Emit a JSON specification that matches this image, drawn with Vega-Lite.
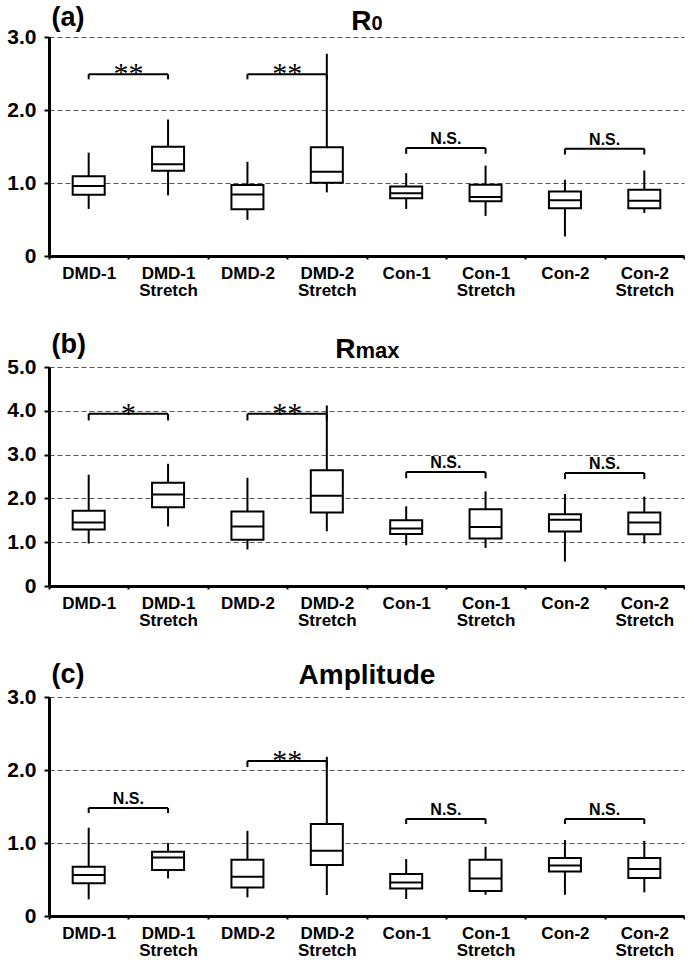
{
  "$schema": "https://vega.github.io/schema/vega-lite/v6.json",
  "background": "white",
  "padding": {"left": 6, "top": 3, "right": 0, "bottom": 0},
  "autosize": {"type": "pad"},
  "config": {"view": {"stroke": null}, "font": "Liberation Sans"},
  "spacing": 111,
  "bounds": "flush",
  "datasets": {
    "box_a": [
      {"group": "DMD-1", "min": 0.645, "q1": 0.84, "median": 0.958, "q3": 1.094, "max": 1.416},
      {"group": "DMD-1 Stretch", "min": 0.83, "q1": 1.167, "median": 1.257, "q3": 1.498, "max": 1.87},
      {"group": "DMD-2", "min": 0.495, "q1": 0.64, "median": 0.844, "q3": 0.971, "max": 1.29},
      {"group": "DMD-2 Stretch", "min": 0.871, "q1": 1.003, "median": 1.153, "q3": 1.489, "max": 2.77},
      {"group": "Con-1", "min": 0.645, "q1": 0.79, "median": 0.858, "q3": 0.953, "max": 1.135},
      {"group": "Con-1 Stretch", "min": 0.549, "q1": 0.749, "median": 0.808, "q3": 0.976, "max": 1.239},
      {"group": "Con-2", "min": 0.268, "q1": 0.654, "median": 0.763, "q3": 0.885, "max": 1.044},
      {"group": "Con-2 Stretch", "min": 0.59, "q1": 0.654, "median": 0.758, "q3": 0.908, "max": 1.171}
    ],
    "box_b": [
      {"group": "DMD-1", "min": 0.97, "q1": 1.29, "median": 1.45, "q3": 1.72, "max": 2.54},
      {"group": "DMD-1 Stretch", "min": 1.36, "q1": 1.8, "median": 2.087, "q3": 2.355, "max": 2.79},
      {"group": "DMD-2", "min": 0.833, "q1": 1.055, "median": 1.36, "q3": 1.7, "max": 2.47},
      {"group": "DMD-2 Stretch", "min": 1.25, "q1": 1.68, "median": 2.06, "q3": 2.64, "max": 4.12},
      {"group": "Con-1", "min": 0.93, "q1": 1.19, "median": 1.31, "q3": 1.5, "max": 1.82},
      {"group": "Con-1 Stretch", "min": 0.87, "q1": 1.085, "median": 1.345, "q3": 1.75, "max": 2.16},
      {"group": "Con-2", "min": 0.558, "q1": 1.246, "median": 1.51, "q3": 1.64, "max": 2.1},
      {"group": "Con-2 Stretch", "min": 0.97, "q1": 1.18, "median": 1.45, "q3": 1.68, "max": 2.04}
    ],
    "box_c": [
      {"group": "DMD-1", "min": 0.228, "q1": 0.447, "median": 0.561, "q3": 0.675, "max": 1.21},
      {"group": "DMD-1 Stretch", "min": 0.515, "q1": 0.63, "median": 0.8, "q3": 0.88, "max": 1.0},
      {"group": "DMD-2", "min": 0.255, "q1": 0.392, "median": 0.538, "q3": 0.77, "max": 1.167},
      {"group": "DMD-2 Stretch", "min": 0.287, "q1": 0.698, "median": 0.894, "q3": 1.26, "max": 2.18},
      {"group": "Con-1", "min": 0.233, "q1": 0.378, "median": 0.46, "q3": 0.575, "max": 0.78},
      {"group": "Con-1 Stretch", "min": 0.29, "q1": 0.342, "median": 0.515, "q3": 0.77, "max": 0.948},
      {"group": "Con-2", "min": 0.29, "q1": 0.611, "median": 0.693, "q3": 0.793, "max": 1.04},
      {"group": "Con-2 Stretch", "min": 0.324, "q1": 0.52, "median": 0.643, "q3": 0.793, "max": 1.03}
    ],
    "br_a": [
      {"left": "DMD-1", "right": "DMD-1 Stretch", "y": 2.49, "ylow": 2.42, "label": "**"},
      {"left": "DMD-2", "right": "DMD-2 Stretch", "y": 2.49, "ylow": 2.42, "label": "**"},
      {"left": "Con-1", "right": "Con-1 Stretch", "y": 1.48, "ylow": 1.4, "label": "N.S."},
      {"left": "Con-2", "right": "Con-2 Stretch", "y": 1.47, "ylow": 1.39, "label": "N.S."}
    ],
    "br_b": [
      {"left": "DMD-1", "right": "DMD-1 Stretch", "y": 3.93, "ylow": 3.78, "label": "*"},
      {"left": "DMD-2", "right": "DMD-2 Stretch", "y": 3.93, "ylow": 3.78, "label": "**"},
      {"left": "Con-1", "right": "Con-1 Stretch", "y": 2.6, "ylow": 2.46, "label": "N.S."},
      {"left": "Con-2", "right": "Con-2 Stretch", "y": 2.58, "ylow": 2.44, "label": "N.S."}
    ],
    "br_c": [
      {"left": "DMD-1", "right": "DMD-1 Stretch", "y": 1.48, "ylow": 1.41, "label": "N.S."},
      {"left": "DMD-2", "right": "DMD-2 Stretch", "y": 2.125, "ylow": 2.04, "label": "**"},
      {"left": "Con-1", "right": "Con-1 Stretch", "y": 1.33, "ylow": 1.26, "label": "N.S."},
      {"left": "Con-2", "right": "Con-2 Stretch", "y": 1.33, "ylow": 1.26, "label": "N.S."}
    ]
  },
  "vconcat": [
    {
      "width": 635, "height": 219,
      "resolve": {"axis": {"y": "independent"}},
      "layer": [
        {"data": {"name": "box_a"}, "mark": {"type": "rule", "color": "black", "strokeWidth": 2},
         "encoding": {
           "x": {"field": "group", "type": "nominal", "scale": {"type": "band", "domain": ["DMD-1","DMD-1 Stretch","DMD-2","DMD-2 Stretch","Con-1","Con-1 Stretch","Con-2","Con-2 Stretch"], "paddingInner": 0, "paddingOuter": 0},
             "axis": {"labelExpr": "split(datum.label, ' ')", "labelFont": "Liberation Sans", "labelFontSize": 17, "labelFontWeight": "bold", "labelColor": "black", "labelAngle": 0, "labelPadding": 6, "labelLineHeight": 17, "tickBand": "extent", "tickSize": 3, "tickWidth": 2, "tickColor": "black", "domainColor": "black", "domainWidth": 3, "grid": false,
               "title": "(a)", "titleX": 2, "titleY": -231, "titleAlign": "left", "titleBaseline": "alphabetic", "titleAnchor": "start", "titleFont": "Liberation Sans", "titleFontSize": 27, "titleFontWeight": "bold", "titleColor": "black"}},
           "y": {"field": "min", "type": "quantitative", "scale": {"domain": [0, 3], "nice": false},
             "axis": {"orient": "left", "values": [0, 1, 2, 3], "labelExpr": "datum.value == 0 ? '0' : format(datum.value, '.1f')", "labelFont": "Liberation Sans", "labelFontWeight": "bold", "labelFontSize": 21, "labelColor": "black", "labelPadding": 8, "tickSize": 5, "tickWidth": 2, "tickColor": "black", "domainColor": "black", "domainWidth": 3, "grid": true, "gridColor": "#555555", "gridDash": [5, 3], "gridWidth": 1,
               "title": "R", "titleX": 322, "titleY": -8, "titleAngle": 0, "titleAlign": "right", "titleBaseline": "alphabetic", "titleFont": "Liberation Sans", "titleFontSize": 28, "titleFontWeight": "bold", "titleColor": "black"}},
           "y2": {"field": "max"}
         }},
        {"data": {"name": "box_a"}, "mark": {"type": "bar", "fill": "white", "stroke": "black", "strokeWidth": 2, "size": 32},
         "encoding": {
           "x": {"field": "group", "type": "nominal", "scale": {"type": "band", "domain": ["DMD-1","DMD-1 Stretch","DMD-2","DMD-2 Stretch","Con-1","Con-1 Stretch","Con-2","Con-2 Stretch"], "paddingInner": 0, "paddingOuter": 0}},
           "y": {"field": "q1", "type": "quantitative", "scale": {"domain": [0, 3], "nice": false}, "axis": null},
           "y2": {"field": "q3"}
         }},
        {"data": {"name": "box_a"}, "mark": {"type": "tick", "color": "black", "opacity": 1, "thickness": 2, "size": 32},
         "encoding": {
           "x": {"field": "group", "type": "nominal", "scale": {"type": "band", "domain": ["DMD-1","DMD-1 Stretch","DMD-2","DMD-2 Stretch","Con-1","Con-1 Stretch","Con-2","Con-2 Stretch"], "paddingInner": 0, "paddingOuter": 0}},
           "y": {"field": "median", "type": "quantitative", "scale": {"domain": [0, 3], "nice": false}, "axis": null}
         }},
        {"data": {"name": "br_a"}, "mark": {"type": "rule", "color": "black", "strokeWidth": 2},
         "encoding": {
           "x": {"field": "left", "type": "nominal", "scale": {"type": "band", "domain": ["DMD-1","DMD-1 Stretch","DMD-2","DMD-2 Stretch","Con-1","Con-1 Stretch","Con-2","Con-2 Stretch"], "paddingInner": 0, "paddingOuter": 0}},
           "x2": {"field": "right"},
           "y": {"field": "y", "type": "quantitative", "scale": {"domain": [0, 3], "nice": false},
             "axis": {"orient": "right", "labels": false, "ticks": false, "domain": false, "grid": false, "title": "0", "titleX": -313, "titleY": -8, "titleAngle": 0, "titleAlign": "left", "titleBaseline": "alphabetic", "titleFont": "Liberation Sans", "titleFontSize": 20, "titleFontWeight": "bold", "titleColor": "black"}}
         }},
        {"data": {"name": "br_a"}, "mark": {"type": "rule", "color": "black", "strokeWidth": 2},
         "encoding": {
           "x": {"field": "left", "type": "nominal", "scale": {"type": "band", "domain": ["DMD-1","DMD-1 Stretch","DMD-2","DMD-2 Stretch","Con-1","Con-1 Stretch","Con-2","Con-2 Stretch"], "paddingInner": 0, "paddingOuter": 0}},
           "y": {"field": "y", "type": "quantitative", "scale": {"domain": [0, 3], "nice": false}, "axis": null},
           "y2": {"field": "ylow"}
         }},
        {"data": {"name": "br_a"}, "mark": {"type": "rule", "color": "black", "strokeWidth": 2},
         "encoding": {
           "x": {"field": "right", "type": "nominal", "scale": {"type": "band", "domain": ["DMD-1","DMD-1 Stretch","DMD-2","DMD-2 Stretch","Con-1","Con-1 Stretch","Con-2","Con-2 Stretch"], "paddingInner": 0, "paddingOuter": 0}},
           "y": {"field": "y", "type": "quantitative", "scale": {"domain": [0, 3], "nice": false}, "axis": null},
           "y2": {"field": "ylow"}
         }},
        {"data": {"name": "br_a"}, "transform": [{"filter": "datum.label == 'N.S.'"}],
         "mark": {"type": "text", "font": "Liberation Sans", "fontSize": 16, "fontWeight": "bold", "color": "black", "dx": 39.7, "dy": -4, "baseline": "alphabetic", "align": "center"},
         "encoding": {
           "x": {"field": "left", "type": "nominal", "scale": {"type": "band", "domain": ["DMD-1","DMD-1 Stretch","DMD-2","DMD-2 Stretch","Con-1","Con-1 Stretch","Con-2","Con-2 Stretch"], "paddingInner": 0, "paddingOuter": 0}},
           "y": {"field": "y", "type": "quantitative", "scale": {"domain": [0, 3], "nice": false}, "axis": null},
           "text": {"field": "label"}
         }},
        {"data": {"name": "br_a"}, "transform": [{"filter": "datum.label != 'N.S.'"}],
         "mark": {"type": "text", "font": "Liberation Serif", "fontSize": 30, "color": "black", "dx": 39.7, "dy": 9, "baseline": "alphabetic", "align": "center"},
         "encoding": {
           "x": {"field": "left", "type": "nominal", "scale": {"type": "band", "domain": ["DMD-1","DMD-1 Stretch","DMD-2","DMD-2 Stretch","Con-1","Con-1 Stretch","Con-2","Con-2 Stretch"], "paddingInner": 0, "paddingOuter": 0}},
           "y": {"field": "y", "type": "quantitative", "scale": {"domain": [0, 3], "nice": false}, "axis": null},
           "text": {"field": "label"}
         }}
      ]
    },
    {
      "width": 635, "height": 219,
      "resolve": {"axis": {"y": "independent"}},
      "layer": [
        {"data": {"name": "box_b"}, "mark": {"type": "rule", "color": "black", "strokeWidth": 2},
         "encoding": {
           "x": {"field": "group", "type": "nominal", "scale": {"type": "band", "domain": ["DMD-1","DMD-1 Stretch","DMD-2","DMD-2 Stretch","Con-1","Con-1 Stretch","Con-2","Con-2 Stretch"], "paddingInner": 0, "paddingOuter": 0},
             "axis": {"labelExpr": "split(datum.label, ' ')", "labelFont": "Liberation Sans", "labelFontSize": 17, "labelFontWeight": "bold", "labelColor": "black", "labelAngle": 0, "labelPadding": 6, "labelLineHeight": 17, "tickBand": "extent", "tickSize": 3, "tickWidth": 2, "tickColor": "black", "domainColor": "black", "domainWidth": 3, "grid": false,
               "title": "(b)", "titleX": 2, "titleY": -234, "titleAlign": "left", "titleBaseline": "alphabetic", "titleAnchor": "start", "titleFont": "Liberation Sans", "titleFontSize": 27, "titleFontWeight": "bold", "titleColor": "black"}},
           "y": {"field": "min", "type": "quantitative", "scale": {"domain": [0, 5], "nice": false},
             "axis": {"orient": "left", "values": [0, 1, 2, 3, 4, 5], "labelExpr": "datum.value == 0 ? '0' : format(datum.value, '.1f')", "labelFont": "Liberation Sans", "labelFontWeight": "bold", "labelFontSize": 21, "labelColor": "black", "labelPadding": 8, "tickSize": 5, "tickWidth": 2, "tickColor": "black", "domainColor": "black", "domainWidth": 3, "grid": true, "gridColor": "#555555", "gridDash": [5, 3], "gridWidth": 1,
               "title": "R", "titleX": 306, "titleY": -10, "titleAngle": 0, "titleAlign": "right", "titleBaseline": "alphabetic", "titleFont": "Liberation Sans", "titleFontSize": 28, "titleFontWeight": "bold", "titleColor": "black"}},
           "y2": {"field": "max"}
         }},
        {"data": {"name": "box_b"}, "mark": {"type": "bar", "fill": "white", "stroke": "black", "strokeWidth": 2, "size": 32},
         "encoding": {
           "x": {"field": "group", "type": "nominal", "scale": {"type": "band", "domain": ["DMD-1","DMD-1 Stretch","DMD-2","DMD-2 Stretch","Con-1","Con-1 Stretch","Con-2","Con-2 Stretch"], "paddingInner": 0, "paddingOuter": 0}},
           "y": {"field": "q1", "type": "quantitative", "scale": {"domain": [0, 5], "nice": false}, "axis": null},
           "y2": {"field": "q3"}
         }},
        {"data": {"name": "box_b"}, "mark": {"type": "tick", "color": "black", "opacity": 1, "thickness": 2, "size": 32},
         "encoding": {
           "x": {"field": "group", "type": "nominal", "scale": {"type": "band", "domain": ["DMD-1","DMD-1 Stretch","DMD-2","DMD-2 Stretch","Con-1","Con-1 Stretch","Con-2","Con-2 Stretch"], "paddingInner": 0, "paddingOuter": 0}},
           "y": {"field": "median", "type": "quantitative", "scale": {"domain": [0, 5], "nice": false}, "axis": null}
         }},
        {"data": {"name": "br_b"}, "mark": {"type": "rule", "color": "black", "strokeWidth": 2},
         "encoding": {
           "x": {"field": "left", "type": "nominal", "scale": {"type": "band", "domain": ["DMD-1","DMD-1 Stretch","DMD-2","DMD-2 Stretch","Con-1","Con-1 Stretch","Con-2","Con-2 Stretch"], "paddingInner": 0, "paddingOuter": 0}},
           "x2": {"field": "right"},
           "y": {"field": "y", "type": "quantitative", "scale": {"domain": [0, 5], "nice": false},
             "axis": {"orient": "right", "labels": false, "ticks": false, "domain": false, "grid": false, "title": "max", "titleX": -329, "titleY": -10, "titleAngle": 0, "titleAlign": "left", "titleBaseline": "alphabetic", "titleFont": "Liberation Sans", "titleFontSize": 22, "titleFontWeight": "bold", "titleColor": "black"}}
         }},
        {"data": {"name": "br_b"}, "mark": {"type": "rule", "color": "black", "strokeWidth": 2},
         "encoding": {
           "x": {"field": "left", "type": "nominal", "scale": {"type": "band", "domain": ["DMD-1","DMD-1 Stretch","DMD-2","DMD-2 Stretch","Con-1","Con-1 Stretch","Con-2","Con-2 Stretch"], "paddingInner": 0, "paddingOuter": 0}},
           "y": {"field": "y", "type": "quantitative", "scale": {"domain": [0, 5], "nice": false}, "axis": null},
           "y2": {"field": "ylow"}
         }},
        {"data": {"name": "br_b"}, "mark": {"type": "rule", "color": "black", "strokeWidth": 2},
         "encoding": {
           "x": {"field": "right", "type": "nominal", "scale": {"type": "band", "domain": ["DMD-1","DMD-1 Stretch","DMD-2","DMD-2 Stretch","Con-1","Con-1 Stretch","Con-2","Con-2 Stretch"], "paddingInner": 0, "paddingOuter": 0}},
           "y": {"field": "y", "type": "quantitative", "scale": {"domain": [0, 5], "nice": false}, "axis": null},
           "y2": {"field": "ylow"}
         }},
        {"data": {"name": "br_b"}, "transform": [{"filter": "datum.label == 'N.S.'"}],
         "mark": {"type": "text", "font": "Liberation Sans", "fontSize": 16, "fontWeight": "bold", "color": "black", "dx": 39.7, "dy": -4, "baseline": "alphabetic", "align": "center"},
         "encoding": {
           "x": {"field": "left", "type": "nominal", "scale": {"type": "band", "domain": ["DMD-1","DMD-1 Stretch","DMD-2","DMD-2 Stretch","Con-1","Con-1 Stretch","Con-2","Con-2 Stretch"], "paddingInner": 0, "paddingOuter": 0}},
           "y": {"field": "y", "type": "quantitative", "scale": {"domain": [0, 5], "nice": false}, "axis": null},
           "text": {"field": "label"}
         }},
        {"data": {"name": "br_b"}, "transform": [{"filter": "datum.label != 'N.S.'"}],
         "mark": {"type": "text", "font": "Liberation Serif", "fontSize": 30, "color": "black", "dx": 39.7, "dy": 9, "baseline": "alphabetic", "align": "center"},
         "encoding": {
           "x": {"field": "left", "type": "nominal", "scale": {"type": "band", "domain": ["DMD-1","DMD-1 Stretch","DMD-2","DMD-2 Stretch","Con-1","Con-1 Stretch","Con-2","Con-2 Stretch"], "paddingInner": 0, "paddingOuter": 0}},
           "y": {"field": "y", "type": "quantitative", "scale": {"domain": [0, 5], "nice": false}, "axis": null},
           "text": {"field": "label"}
         }}
      ]
    },
    {
      "width": 635, "height": 219,
      "resolve": {"axis": {"y": "independent"}},
      "layer": [
        {"data": {"name": "box_c"}, "mark": {"type": "rule", "color": "black", "strokeWidth": 2},
         "encoding": {
           "x": {"field": "group", "type": "nominal", "scale": {"type": "band", "domain": ["DMD-1","DMD-1 Stretch","DMD-2","DMD-2 Stretch","Con-1","Con-1 Stretch","Con-2","Con-2 Stretch"], "paddingInner": 0, "paddingOuter": 0},
             "axis": {"labelExpr": "split(datum.label, ' ')", "labelFont": "Liberation Sans", "labelFontSize": 17, "labelFontWeight": "bold", "labelColor": "black", "labelAngle": 0, "labelPadding": 6, "labelLineHeight": 17, "tickBand": "extent", "tickSize": 3, "tickWidth": 2, "tickColor": "black", "domainColor": "black", "domainWidth": 3, "grid": false,
               "title": "(c)", "titleX": 2, "titleY": -234, "titleAlign": "left", "titleBaseline": "alphabetic", "titleAnchor": "start", "titleFont": "Liberation Sans", "titleFontSize": 27, "titleFontWeight": "bold", "titleColor": "black"}},
           "y": {"field": "min", "type": "quantitative", "scale": {"domain": [0, 3], "nice": false},
             "axis": {"orient": "left", "values": [0, 1, 2, 3], "labelExpr": "datum.value == 0 ? '0' : format(datum.value, '.1f')", "labelFont": "Liberation Sans", "labelFontWeight": "bold", "labelFontSize": 21, "labelColor": "black", "labelPadding": 8, "tickSize": 5, "tickWidth": 2, "tickColor": "black", "domainColor": "black", "domainWidth": 3, "grid": true, "gridColor": "#555555", "gridDash": [5, 3], "gridWidth": 1,
               "title": "Amplitude", "titleX": 317.5, "titleY": -14, "titleAngle": 0, "titleAlign": "center", "titleBaseline": "alphabetic", "titleFont": "Liberation Sans", "titleFontSize": 28, "titleFontWeight": "bold", "titleColor": "black"}},
           "y2": {"field": "max"}
         }},
        {"data": {"name": "box_c"}, "mark": {"type": "bar", "fill": "white", "stroke": "black", "strokeWidth": 2, "size": 32},
         "encoding": {
           "x": {"field": "group", "type": "nominal", "scale": {"type": "band", "domain": ["DMD-1","DMD-1 Stretch","DMD-2","DMD-2 Stretch","Con-1","Con-1 Stretch","Con-2","Con-2 Stretch"], "paddingInner": 0, "paddingOuter": 0}},
           "y": {"field": "q1", "type": "quantitative", "scale": {"domain": [0, 3], "nice": false}, "axis": null},
           "y2": {"field": "q3"}
         }},
        {"data": {"name": "box_c"}, "mark": {"type": "tick", "color": "black", "opacity": 1, "thickness": 2, "size": 32},
         "encoding": {
           "x": {"field": "group", "type": "nominal", "scale": {"type": "band", "domain": ["DMD-1","DMD-1 Stretch","DMD-2","DMD-2 Stretch","Con-1","Con-1 Stretch","Con-2","Con-2 Stretch"], "paddingInner": 0, "paddingOuter": 0}},
           "y": {"field": "median", "type": "quantitative", "scale": {"domain": [0, 3], "nice": false}, "axis": null}
         }},
        {"data": {"name": "br_c"}, "mark": {"type": "rule", "color": "black", "strokeWidth": 2},
         "encoding": {
           "x": {"field": "left", "type": "nominal", "scale": {"type": "band", "domain": ["DMD-1","DMD-1 Stretch","DMD-2","DMD-2 Stretch","Con-1","Con-1 Stretch","Con-2","Con-2 Stretch"], "paddingInner": 0, "paddingOuter": 0}},
           "x2": {"field": "right"},
           "y": {"field": "y", "type": "quantitative", "scale": {"domain": [0, 3], "nice": false}, "axis": null}
         }},
        {"data": {"name": "br_c"}, "mark": {"type": "rule", "color": "black", "strokeWidth": 2},
         "encoding": {
           "x": {"field": "left", "type": "nominal", "scale": {"type": "band", "domain": ["DMD-1","DMD-1 Stretch","DMD-2","DMD-2 Stretch","Con-1","Con-1 Stretch","Con-2","Con-2 Stretch"], "paddingInner": 0, "paddingOuter": 0}},
           "y": {"field": "y", "type": "quantitative", "scale": {"domain": [0, 3], "nice": false}, "axis": null},
           "y2": {"field": "ylow"}
         }},
        {"data": {"name": "br_c"}, "mark": {"type": "rule", "color": "black", "strokeWidth": 2},
         "encoding": {
           "x": {"field": "right", "type": "nominal", "scale": {"type": "band", "domain": ["DMD-1","DMD-1 Stretch","DMD-2","DMD-2 Stretch","Con-1","Con-1 Stretch","Con-2","Con-2 Stretch"], "paddingInner": 0, "paddingOuter": 0}},
           "y": {"field": "y", "type": "quantitative", "scale": {"domain": [0, 3], "nice": false}, "axis": null},
           "y2": {"field": "ylow"}
         }},
        {"data": {"name": "br_c"}, "transform": [{"filter": "datum.label == 'N.S.'"}],
         "mark": {"type": "text", "font": "Liberation Sans", "fontSize": 16, "fontWeight": "bold", "color": "black", "dx": 39.7, "dy": -4, "baseline": "alphabetic", "align": "center"},
         "encoding": {
           "x": {"field": "left", "type": "nominal", "scale": {"type": "band", "domain": ["DMD-1","DMD-1 Stretch","DMD-2","DMD-2 Stretch","Con-1","Con-1 Stretch","Con-2","Con-2 Stretch"], "paddingInner": 0, "paddingOuter": 0}},
           "y": {"field": "y", "type": "quantitative", "scale": {"domain": [0, 3], "nice": false}, "axis": null},
           "text": {"field": "label"}
         }},
        {"data": {"name": "br_c"}, "transform": [{"filter": "datum.label != 'N.S.'"}],
         "mark": {"type": "text", "font": "Liberation Serif", "fontSize": 30, "color": "black", "dx": 39.7, "dy": 9, "baseline": "alphabetic", "align": "center"},
         "encoding": {
           "x": {"field": "left", "type": "nominal", "scale": {"type": "band", "domain": ["DMD-1","DMD-1 Stretch","DMD-2","DMD-2 Stretch","Con-1","Con-1 Stretch","Con-2","Con-2 Stretch"], "paddingInner": 0, "paddingOuter": 0}},
           "y": {"field": "y", "type": "quantitative", "scale": {"domain": [0, 3], "nice": false}, "axis": null},
           "text": {"field": "label"}
         }}
      ]
    }
  ]
}
